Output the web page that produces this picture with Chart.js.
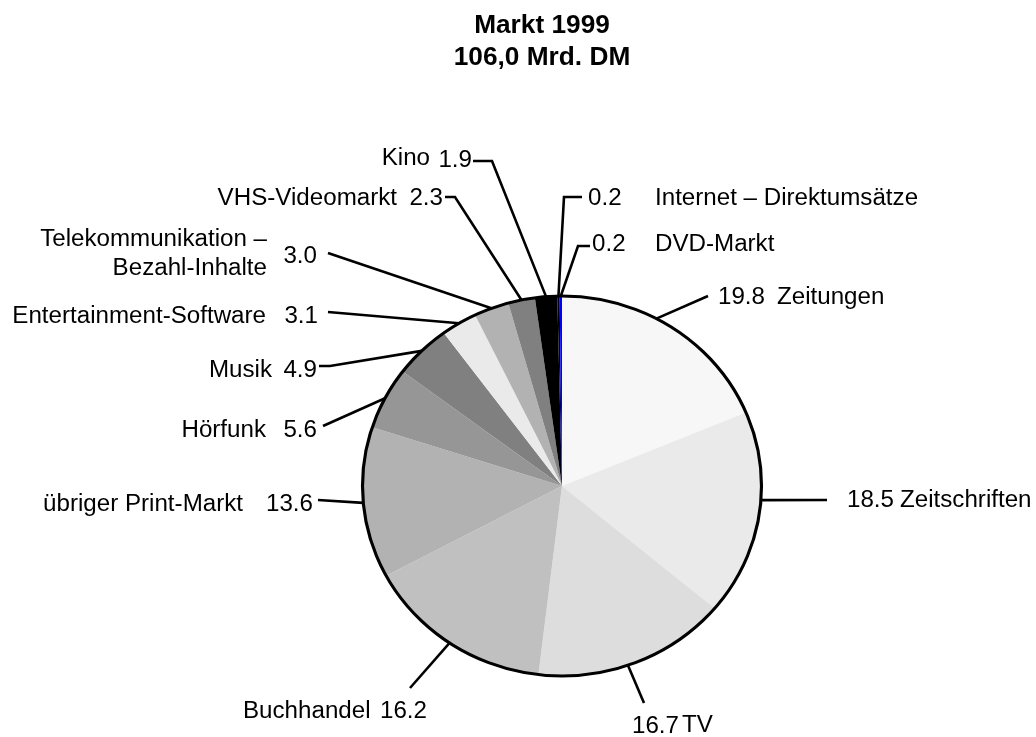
<!DOCTYPE html>
<html>
<head>
<meta charset="utf-8">
<script src="https://cdn.jsdelivr.net/npm/chart.js@4/dist/chart.umd.min.js"></script>
<style>
html,body{margin:0;padding:0;background:#ffffff;}
#wrap{width:1036px;height:737px;position:relative;}
</style>
</head>
<body>
<div id="wrap"><canvas id="c" width="1036" height="737"></canvas></div>
<script>
// ---- data ----
const titleLines = ['Markt 1999', '106,0 Mrd. DM'];
const categories = [
  'Zeitungen',
  'Zeitschriften',
  'TV',
  'Buchhandel',
  'übriger Print-Markt',
  'Hörfunk',
  'Musik',
  'Entertainment-Software',
  'Telekommunikation –\nBezahl-Inhalte',
  'VHS-Videomarkt',
  'Kino',
  'Internet – Direktumsätze',
  'DVD-Markt'
];
const values = [19.8, 18.5, 16.7, 16.2, 13.6, 5.6, 4.9, 3.1, 3.0, 2.3, 1.9, 0.2, 0.2];

// ---- style ----
const sliceColors = ['#f7f7f7','#eaeaea','#dddddd','#c0c0c0','#b2b2b2','#969696','#808080',
                     '#eaeaea','#b2b2b2','#808080','#000000','#000000','#0000ff'];
const SX = 1.05;            // horizontal stretch of the original picture
const FONT = '23px "Liberation Sans", Arial, sans-serif';
const TITLE_FONT = 'bold 25px "Liberation Sans", Arial, sans-serif';

// label layout (pixel positions of texts and leader elbows; f = where the leader meets the slice)
const labelLayout = [
  {name:[777,304,'left'], value:[718,304,'left'], path:[[708,296]], f:0.42},
  {name:[900,507,'left'], value:[847,507,'left'], path:[[827,500]], f:0.43},
  {name:[682,732,'left'], value:[632,733,'left'], path:[[644,703]], f:0.54},
  {name:[243,718,'left'], value:[380,718,'left'], path:[[410,688]], f:0.5},
  {name:[243,511,'right'], value:[313,511,'right'], path:[[318,500]], f:0.5},
  {name:[266,437,'right'], value:[317,437,'right'], path:[[323,426]], f:0.5},
  {name:[272,377,'right'], value:[317,377,'right'], path:[[319,366],[330,366]], f:0.5},
  {name:[266,323,'right'], value:[318,323,'right'], path:[[328,312]], f:0.5},
  {name:[267,246,'right'], value:[317,263,'right'], path:[[328,253]], f:0.5, lineGap:29},
  {name:[397,205,'right'], value:[443,205,'right'], path:[[445,197],[455,197]], f:0.5},
  {name:[430,165,'right'], value:[472,167,'right'], path:[[473,161],[492,161]], f:0.5},
  {name:[655,205,'left'], value:[588,205,'left'], path:[[582,197],[564,197]], f:0.5},
  {name:[655,251,'left'], value:[592,251,'left'], path:[[590,246],[578,246]], f:0.5}
];

function stretchedText(ctx, s, x, y, align, font) {
  ctx.save();
  ctx.translate(x, y);
  ctx.scale(SX, 1);
  ctx.font = font;
  ctx.textAlign = align;
  ctx.textBaseline = 'alphabetic';
  ctx.fillStyle = '#000000';
  ctx.fillText(s, 0, 0);
  ctx.restore();
}

const stretchPie = {
  id: 'stretchPie',
  beforeDatasetsDraw(chart) {
    const a = chart.getDatasetMeta(0).data[0];
    const ctx = chart.ctx;
    ctx.save();
    ctx.translate(a.x, a.y);
    ctx.scale(SX, 1);
    ctx.translate(-a.x, -a.y);
  },
  afterDatasetsDraw(chart) {
    const a = chart.getDatasetMeta(0).data[0];
    const ctx = chart.ctx;
    ctx.beginPath();
    ctx.arc(a.x, a.y, a.outerRadius, 0, Math.PI * 2);
    ctx.lineWidth = 3;
    ctx.strokeStyle = '#000000';
    ctx.stroke();
    ctx.restore();
  }
};

const labelsPlugin = {
  id: 'labelsPlugin',
  afterDraw(chart) {
    const ctx = chart.ctx;
    const meta = chart.getDatasetMeta(0);
    // title
    stretchedText(ctx, titleLines[0], 542, 33, 'center', TITLE_FONT);
    stretchedText(ctx, titleLines[1], 542, 65, 'center', TITLE_FONT);
    meta.data.forEach((arc, i) => {
      const L = labelLayout[i];
      const ang = arc.startAngle + L.f * (arc.endAngle - arc.startAngle);
      const ex = arc.x + SX * arc.outerRadius * Math.cos(ang);
      const ey = arc.y + arc.outerRadius * Math.sin(ang);
      ctx.save();
      ctx.beginPath();
      ctx.moveTo(L.path[0][0], L.path[0][1]);
      for (let k = 1; k < L.path.length; k++) ctx.lineTo(L.path[k][0], L.path[k][1]);
      ctx.lineTo(ex, ey);
      ctx.lineWidth = 2.6;
      ctx.strokeStyle = '#000000';
      ctx.lineJoin = 'miter';
      ctx.stroke();
      ctx.restore();
      const lines = categories[i].split('\n');
      lines.forEach((ln, j) => {
        stretchedText(ctx, ln, L.name[0], L.name[1] + j * (L.lineGap || 0), L.name[2], FONT);
      });
      stretchedText(ctx, values[i].toFixed(1), L.value[0], L.value[1], L.value[2], FONT);
    });
  }
};

new Chart(document.getElementById('c'), {
  type: 'pie',
  data: {
    labels: categories,
    datasets: [{
      data: values,
      backgroundColor: sliceColors,
      borderWidth: 0,
      hoverOffset: 0,
      offset: 0,
      clip: false
    }]
  },
  options: {
    responsive: false,
    animation: false,
    events: [],
    devicePixelRatio: 1,
    layout: { padding: { top: 296, bottom: 61, left: 262, right: 174 } },
    plugins: {
      legend: { display: false },
      title: { display: false },
      tooltip: { enabled: false }
    }
  },
  plugins: [stretchPie, labelsPlugin]
});
</script>
</body>
</html>
